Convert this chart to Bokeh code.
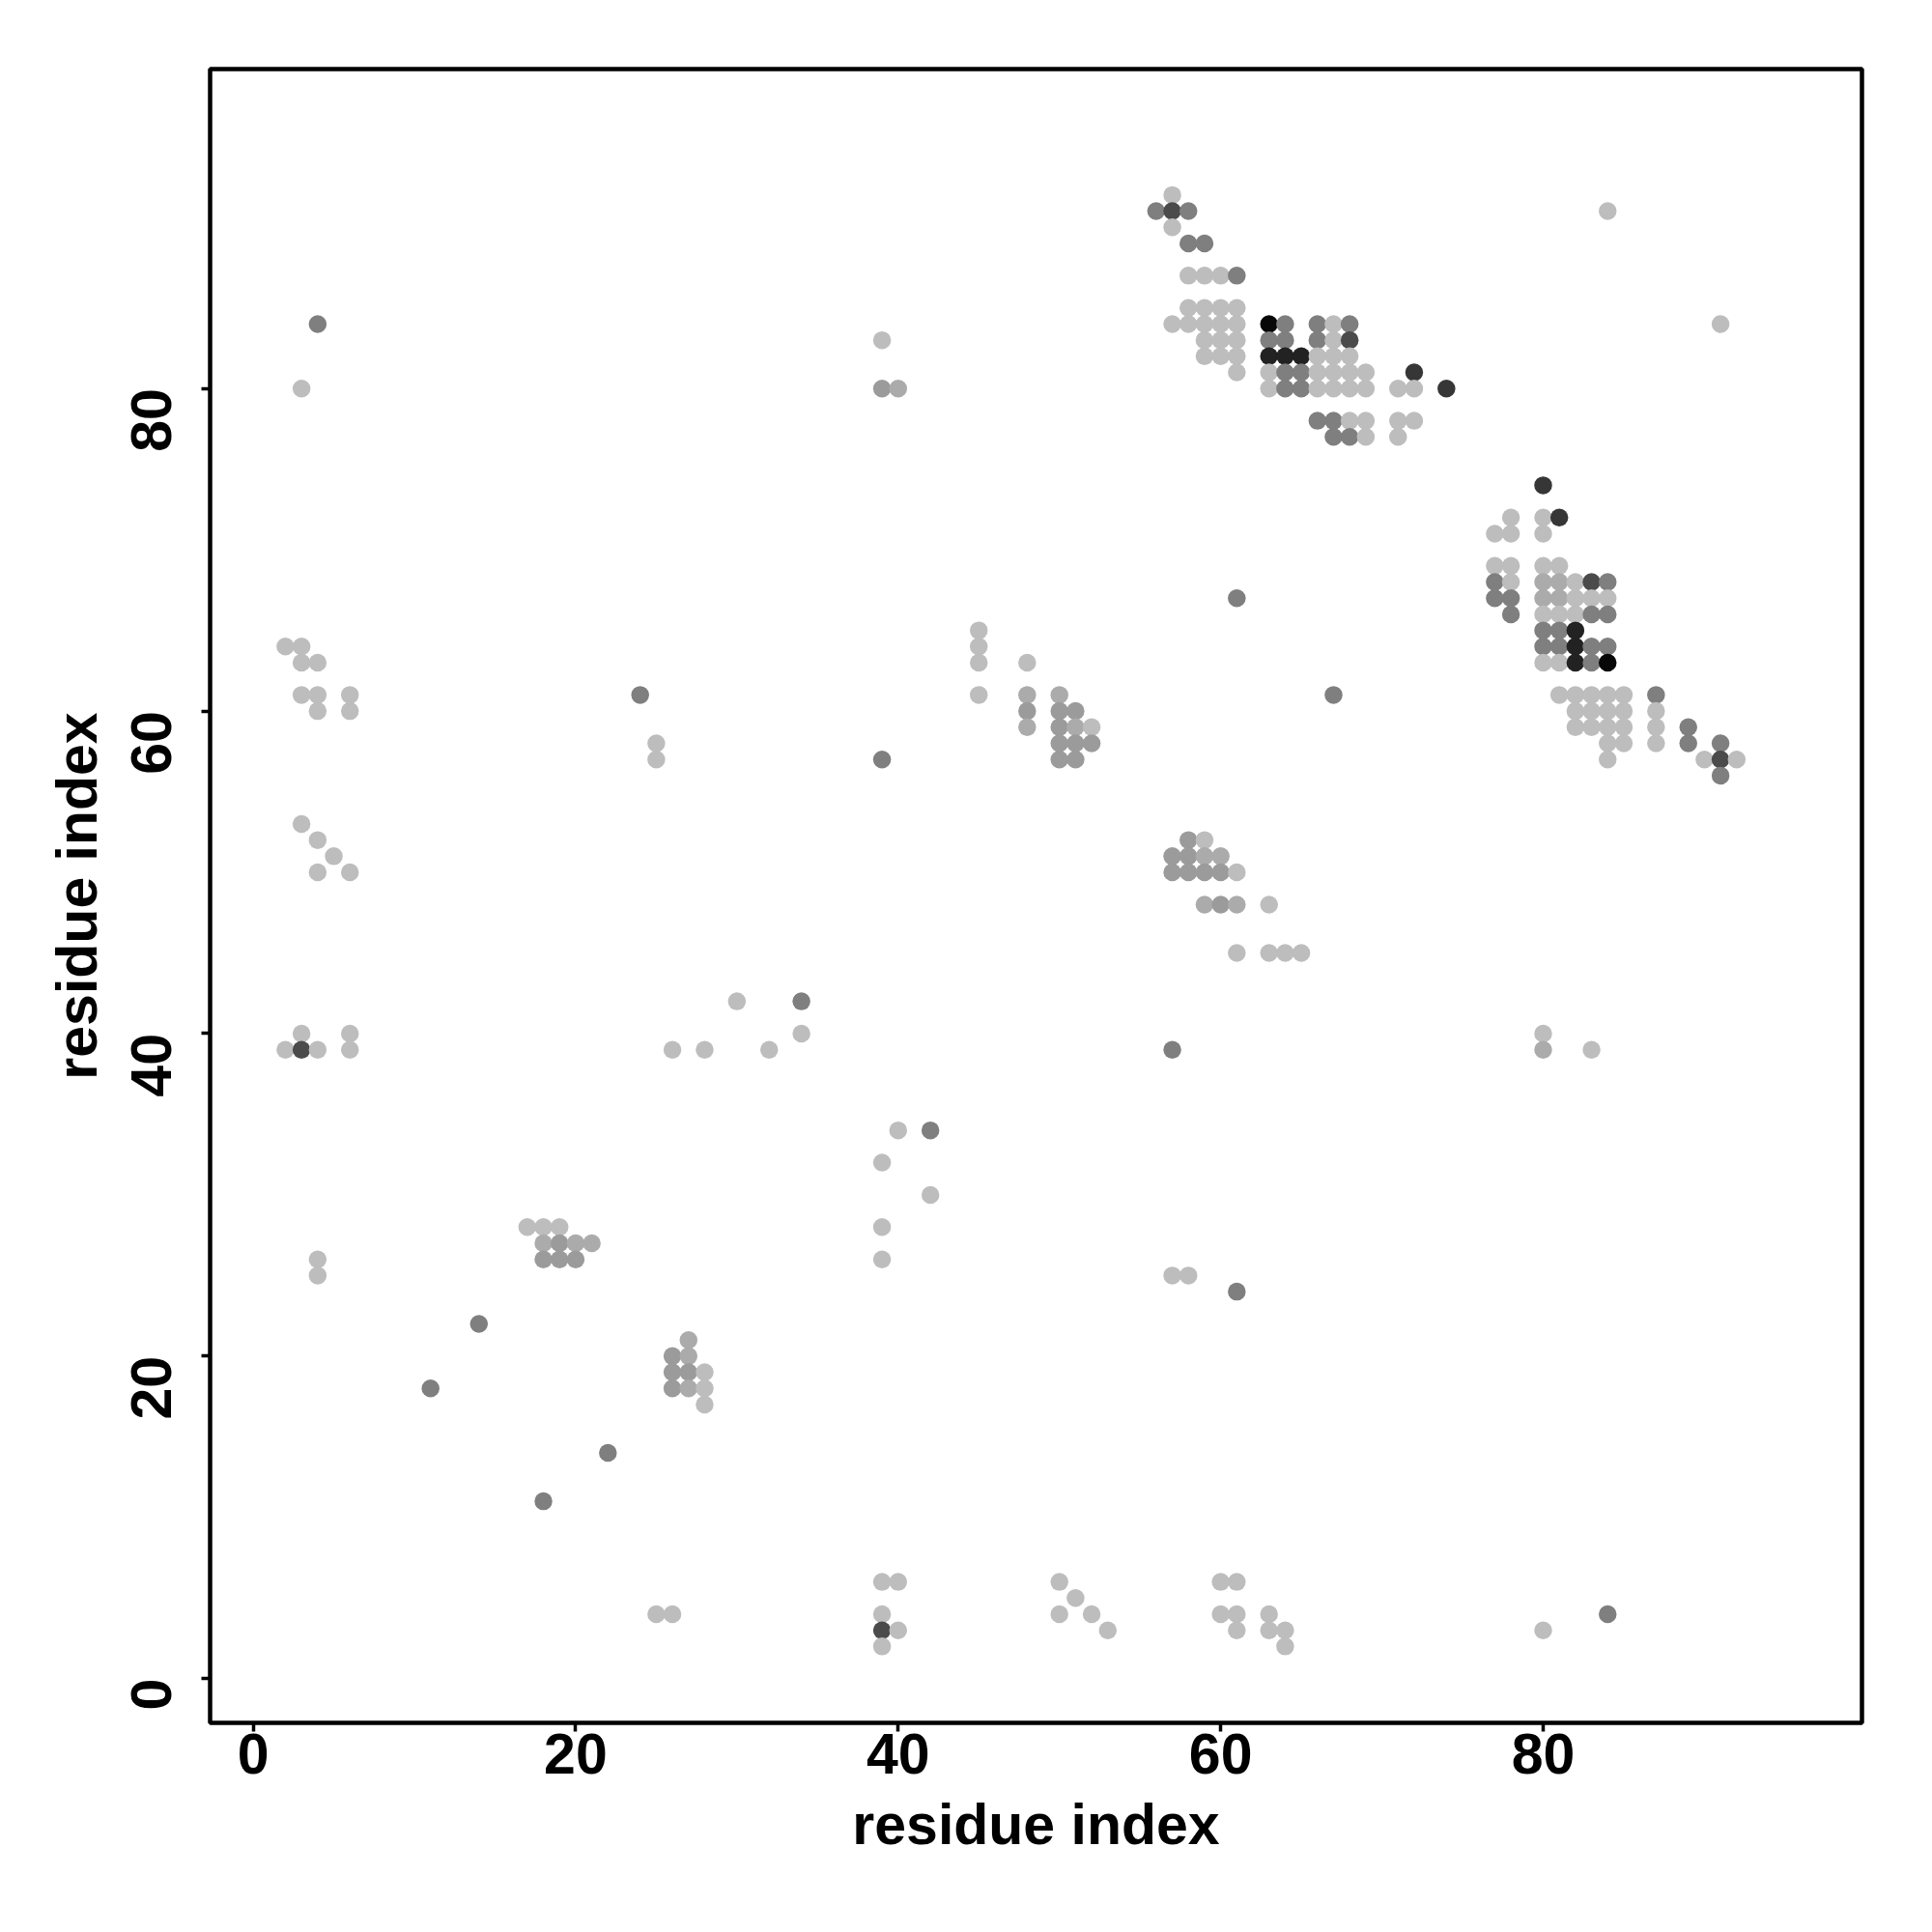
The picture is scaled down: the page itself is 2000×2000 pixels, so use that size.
import math
from bokeh.plotting import figure
from bokeh.models import Range1d, FixedTicker, ColumnDataSource
from bokeh.transform import linear_cmap
from bokeh.embed import file_html
from bokeh.resources import INLINE

# ---- data: contact pairs (residue i, residue j) and contact level (1 = weak .. 8 = strong)
residue_i = [
    57, 56, 57, 58, 57, 58, 59,
    58, 59, 60, 61,
    58, 59, 60, 61,
    57, 58, 59, 60, 61, 63, 64, 66, 67, 68,
    59, 60, 61, 63, 64, 66, 67, 68,
    59, 60, 61, 63, 64, 65, 66, 67, 68,
    61, 63, 64, 65, 66, 67, 68, 69, 72,
    63, 64, 65, 66, 67, 68, 69, 71, 72, 74,
    66, 67, 68, 69, 71, 72,
    67, 68, 69, 71,
    80,
    78, 80, 81,
    77, 78, 80,
    77, 78, 80, 81,
    77, 78, 80, 81, 82, 83, 84,
    77, 78, 80, 81, 82, 83, 84,
    78, 80, 81, 82, 83, 84,
    80, 81, 82,
    80, 81, 82, 83, 84,
    80, 81, 82, 83, 84,
    81, 82, 83, 84, 85, 87,
    82, 83, 84, 85, 87,
    82, 83, 84, 85, 87, 89,
    84, 85, 87, 89, 91,
    84, 90, 91, 92,
    91,
    2, 3, 3, 4, 3, 4, 6, 4, 6,
    3, 4, 5, 4, 6,
    3, 6, 2, 3, 4, 6,
    4, 4, 4, 3,
    45, 45, 45, 45,
    48, 48, 48, 48,
    50, 50, 50, 50, 50,
    51, 51, 51, 51,
    52, 52,
    58, 59, 57, 58, 59, 60, 57, 58, 59, 60, 61,
    59, 60, 61, 63, 61, 63, 64, 65,
    25, 26, 39, 40, 39, 39, 40, 39,
    50, 51, 50, 52, 53,
    60, 61, 60, 61, 63, 61, 63, 64, 64,
    80, 84,
    17, 18, 19, 18, 19, 20, 21, 18, 19, 20,
    14, 11, 22, 18,
    27, 26, 27, 26, 27, 28, 26, 27, 28, 28,
    26, 28, 32, 30, 34, 34,
    40, 42, 39, 42, 39, 39,
    24, 25, 25, 39, 39, 40, 39,
    61, 67, 57, 57, 58, 61,
    80, 80, 83, 84, 91,
]
residue_j = [
    92, 91, 91, 91, 90, 89, 89,
    87, 87, 87, 87,
    85, 85, 85, 85,
    84, 84, 84, 84, 84, 84, 84, 84, 84, 84,
    83, 83, 83, 83, 83, 83, 83, 83,
    82, 82, 82, 82, 82, 82, 82, 82, 82,
    81, 81, 81, 81, 81, 81, 81, 81, 81,
    80, 80, 80, 80, 80, 80, 80, 80, 80, 80,
    78, 78, 78, 78, 78, 78,
    77, 77, 77, 77,
    74,
    72, 72, 72,
    71, 71, 71,
    69, 69, 69, 69,
    68, 68, 68, 68, 68, 68, 68,
    67, 67, 67, 67, 67, 67, 67,
    66, 66, 66, 66, 66, 66,
    65, 65, 65,
    64, 64, 64, 64, 64,
    63, 63, 63, 63, 63,
    61, 61, 61, 61, 61, 61,
    60, 60, 60, 60, 60,
    59, 59, 59, 59, 59, 59,
    58, 58, 58, 58, 58,
    57, 57, 57, 57,
    56,
    64, 64, 63, 63, 61, 61, 61, 60, 60,
    53, 52, 51, 50, 50,
    40, 40, 39, 39, 39, 39,
    26, 25, 84, 80,
    65, 64, 63, 61,
    63, 61, 60, 59,
    61, 60, 59, 58, 57,
    60, 59, 58, 57,
    59, 58,
    52, 52, 51, 51, 51, 51, 50, 50, 50, 50, 50,
    48, 48, 48, 48, 45, 45, 45, 45,
    4, 4, 6, 6, 4, 3, 3, 2,
    6, 5, 4, 4, 3,
    6, 6, 4, 4, 4, 3, 3, 3, 2,
    3, 4,
    28, 28, 28, 27, 27, 27, 27, 26, 26, 26,
    22, 18, 14, 11,
    21, 20, 20, 19, 19, 19, 18, 18, 18, 17,
    39, 39, 39, 42, 42, 40,
    34, 34, 32, 30, 28, 26,
    61, 58, 57, 83, 80, 80, 57,
    67, 61, 39, 25, 25, 24,
    40, 39, 39, 91, 84,
]
contact_level = [
    1, 4, 5, 4, 1, 4, 4,
    1, 1, 1, 4,
    1, 1, 1, 1,
    1, 1, 1, 1, 1, 8, 4, 4, 1, 4,
    1, 1, 1, 4, 4, 4, 1, 5,
    1, 1, 1, 7, 7, 7, 1, 1, 1,
    1, 1, 4, 4, 1, 1, 1, 1, 6,
    1, 4, 4, 1, 1, 1, 1, 1, 1, 6,
    4, 4, 1, 1, 1, 1,
    4, 4, 1, 1,
    6,
    1, 1, 6,
    1, 1, 1,
    1, 1, 1, 1,
    4, 1, 2, 2, 1, 5, 4,
    4, 4, 2, 2, 1, 1, 1,
    4, 1, 1, 1, 4, 4,
    4, 4, 7,
    4, 4, 7, 4, 4,
    1, 1, 7, 4, 8,
    1, 1, 1, 1, 1, 4,
    1, 1, 1, 1, 1,
    1, 1, 1, 1, 1, 4,
    1, 1, 1, 4, 4,
    1, 1, 5, 1,
    4,
    1, 1, 1, 1, 1, 1, 1, 1, 1,
    1, 1, 1, 1, 1,
    1, 1, 1, 5, 1, 1,
    1, 1, 4, 1,
    1, 1, 1, 1,
    1, 2, 3, 2,
    2, 3, 3, 3, 3,
    3, 2, 3, 3,
    1, 3,
    3, 1, 3, 3, 2, 2, 3, 3, 3, 3, 1,
    2, 3, 2, 1, 1, 1, 1, 1,
    1, 1, 1, 1, 1, 5, 1, 1,
    1, 1, 1, 1, 1,
    1, 1, 1, 1, 1, 1, 1, 1, 1,
    1, 4,
    1, 1, 1, 2, 3, 2, 2, 3, 3, 3,
    4, 4, 4, 4,
    2, 3, 2, 3, 3, 1, 3, 2, 1, 1,
    1, 1, 1, 1, 4, 1,
    1, 4, 1, 1, 1, 1,
    4, 1, 1, 1, 3, 2, 4,
    4, 4, 4, 1, 1, 4,
    1, 2, 1, 1, 1,
]
tick_values = [0, 20, 40, 60, 80]
x_title = "residue index"
y_title = "residue index"

gray_palette = ["#bdbdbd", "#ababab", "#9b9b9b", "#7f7f7f",
                "#4b4b4b", "#363636", "#222222", "#070707"]

source = ColumnDataSource(dict(i=residue_i, j=residue_j, level=contact_level))

p = figure(frame_width=1710, frame_height=1712,
           x_range=Range1d(-2.67, 99.77), y_range=Range1d(-2.74, 99.81),
           output_backend="svg", toolbar_location=None,
           min_border_left=217, min_border_top=71,
           min_border_right=60, min_border_bottom=205,
           x_axis_label=x_title, y_axis_label=y_title)

p.scatter("i", "j", source=source, size=18.5, line_color=None,
          fill_color=linear_cmap("level", gray_palette, 0.5, 8.5))

p.background_fill_color = "white"
p.border_fill_color = "white"
p.outline_line_color = "black"
p.outline_line_width = 4.5
p.grid.visible = False

for ax in p.axis:
    ax.ticker = FixedTicker(ticks=tick_values)
    ax.axis_line_color = None
    ax.major_tick_line_color = "black"
    ax.major_tick_line_width = 3.5
    ax.major_tick_out = 9
    ax.major_tick_in = 0
    ax.minor_tick_line_color = None
    ax.major_label_text_font = "Liberation Sans"
    ax.major_label_text_font_style = "bold"
    ax.major_label_text_font_size = "59px"
    ax.major_label_text_color = "black"
    ax.axis_label_text_font = "Liberation Sans"
    ax.axis_label_text_font_style = "bold"
    ax.axis_label_text_font_size = "59px"
    ax.axis_label_text_color = "black"

p.xaxis.major_label_standoff = 2
p.xaxis.axis_label_standoff = 17
p.yaxis.major_label_orientation = math.pi / 2
p.yaxis.major_label_standoff = 52
p.yaxis.axis_label_standoff = 0

open("out.html", "w").write(file_html(p, INLINE))
